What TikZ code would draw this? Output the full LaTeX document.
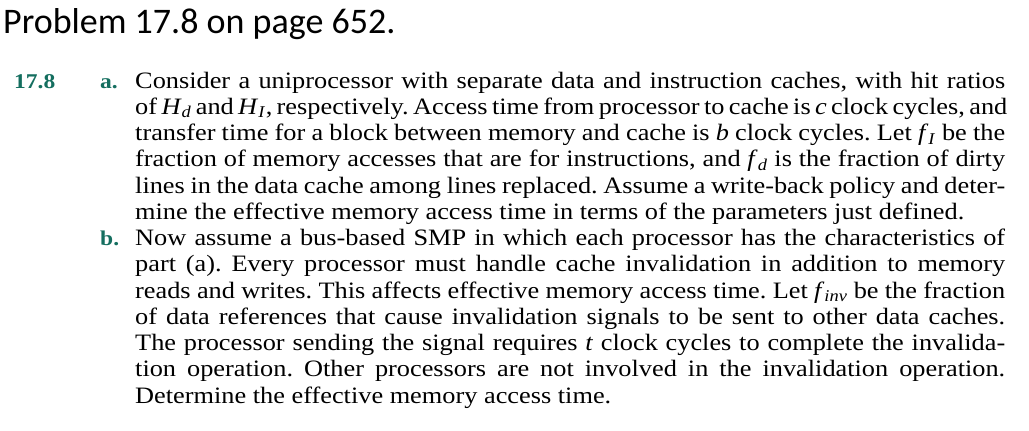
\documentclass[tikz,border=0pt]{standalone}
\usepackage{fontspec}
\setmainfont{Liberation Serif}[FakeStretch=1.12]
\newfontfamily\titlefont{Carlito}
\definecolor{probgreen}{RGB}{20,110,95}
\newcommand{\iv}[2]{\mbox{\textit{#1}\textsubscript{\textit{#2}}}}
\begin{document}
\begin{tikzpicture}[x=1pt,y=-1pt,
  ln/.style={anchor=base west,inner sep=0pt,font=\fontsize{23.5}{26}\selectfont\frenchspacing},
  lab/.style={anchor=base west,inner sep=0pt,text=probgreen,font=\fontsize{21}{26}\selectfont\bfseries}]
\useasboundingbox (0,0) rectangle (1029,431);
\node[anchor=base west,inner sep=0pt,font=\titlefont\fontsize{36}{40}\selectfont] (title) at (3,33) {Problem 17.8 on page 652.};
\node[lab] (num) at (14,88) {17.8};
\node[lab] (la) at (100,88) {a.};
\node[lab] (lb) at (100,245.5) {b.};
\def\W{870pt}
\node[ln] (l1) at (135,88.0) {\makebox[\W][s]{Consider a uniprocessor with separate data and instruction caches, with hit ratios}};
\node[ln] (l2) at (135,114.25) {\makebox[\W][s]{of \iv{H}{d} and \iv{H}{I}, respectively. Access time from processor to cache is \textit{c} clock cycles, and}};
\node[ln] (l3) at (135,140.5) {\makebox[\W][s]{transfer time for a block between memory and cache is \textit{b} clock cycles. Let \iv{f}{I} be the}};
\node[ln] (l4) at (135,166.75) {\makebox[\W][s]{fraction of memory accesses that are for instructions, and \iv{f}{d} is the fraction of dirty}};
\node[ln] (l5) at (135,193.0) {\makebox[\W][s]{lines in the data cache among lines replaced. Assume a write-back policy and deter-}};
\node[ln] (l6) at (135,219.25) {mine the effective memory access time in terms of the parameters just defined.};
\node[ln] (l7) at (135,245.5) {\makebox[\W][s]{Now assume a bus-based SMP in which each processor has the characteristics of}};
\node[ln] (l8) at (135,271.75) {\makebox[\W][s]{part (a). Every processor must handle cache invalidation in addition to memory}};
\node[ln] (l9) at (135,298.0) {\makebox[\W][s]{reads and writes. This affects effective memory access time. Let \iv{f}{inv} be the fraction}};
\node[ln] (l10) at (135,324.25) {\makebox[\W][s]{of data references that cause invalidation signals to be sent to other data caches.}};
\node[ln] (l11) at (135,350.5) {\makebox[\W][s]{The processor sending the signal requires \textit{t} clock cycles to complete the invalida-}};
\node[ln] (l12) at (135,376.75) {\makebox[\W][s]{tion operation. Other processors are not involved in the invalidation operation.}};
\node[ln] (l13) at (135,403.0) {Determine the effective memory access time.};
\end{tikzpicture}
\end{document}
